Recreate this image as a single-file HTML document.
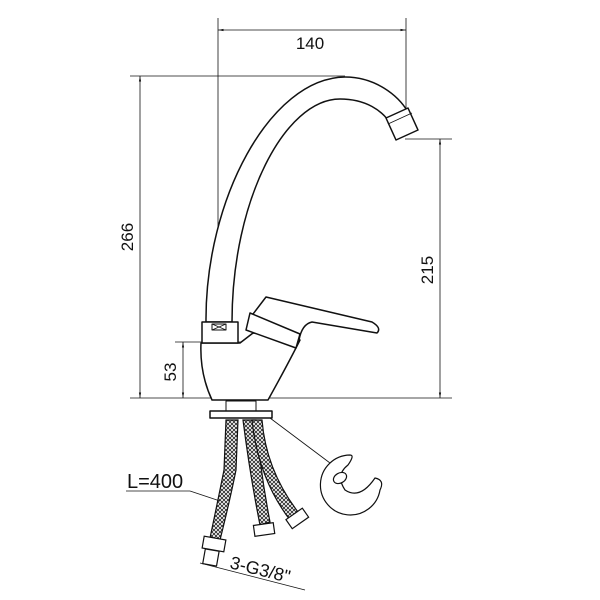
<!DOCTYPE html>
<html><head><style>body{margin:0;background:#fff}svg{display:block}text{font-family:"Liberation Sans",sans-serif;fill:#111}</style></head>
<body>
<svg width="600" height="600" viewBox="0 0 600 600" xmlns="http://www.w3.org/2000/svg">
<defs>
<marker id="a" viewBox="0 0 10 10" refX="10" refY="5" markerWidth="7" markerHeight="7" orient="auto-start-reverse"><path d="M0,3L10,5L0,7z" fill="#111"/></marker>
<pattern id="br" width="4" height="4" patternUnits="userSpaceOnUse"><rect width="4" height="4" fill="#fff"/><path d="M0,0L4,4M4,0L0,4" stroke="#222" stroke-width="0.8"/></pattern>
</defs>
<g stroke="#111" stroke-width="0.8" fill="none">
<line x1="218" y1="18" x2="218" y2="322"/>
<line x1="406" y1="18" x2="406" y2="112"/>
<line x1="218" y1="30" x2="406" y2="30" marker-start="url(#a)" marker-end="url(#a)"/>
<line x1="130" y1="76" x2="345" y2="76"/>
<line x1="140" y1="76" x2="140" y2="398" marker-start="url(#a)" marker-end="url(#a)"/>
<line x1="130" y1="398" x2="452" y2="398"/>
<line x1="405" y1="139" x2="452" y2="139"/>
<line x1="440" y1="139" x2="440" y2="398" marker-start="url(#a)" marker-end="url(#a)"/>
<line x1="175" y1="342" x2="253" y2="342"/>
<line x1="183" y1="342" x2="183" y2="398" marker-start="url(#a)" marker-end="url(#a)"/>
</g>
<text x="310" y="49" font-size="17" text-anchor="middle">140</text>
<text transform="translate(133,237) rotate(-90)" font-size="17" text-anchor="middle">266</text>
<text transform="translate(433,270) rotate(-90)" font-size="17" text-anchor="middle">215</text>
<text transform="translate(176,372) rotate(-90)" font-size="17" text-anchor="middle">53</text>
<g stroke="#111" stroke-width="1.5" fill="#fff" stroke-linejoin="round">
<path d="M206,322 C205,200 270,78 345,77 C375,77 398,95 408,112 L392,126 C383,110 365,99 340,99 C285,99 232,200 232,322 Z"/>
<path d="M386,118 L408,108 L418,130 L396,140 Z"/>
<line x1="388" y1="124" x2="412" y2="113" stroke-width="0.8"/>
<path d="M201,343 C200,365 205,385 212,400 L268,400 C278,382 290,360 300,340 L253,333 L240,343 Z"/>
<rect x="202" y="322" width="36" height="21"/>
<rect x="212" y="324" width="14" height="6" stroke-width="1"/>
<path d="M212,324L226,330M226,324L212,330" stroke-width="0.8"/>
<path d="M266,297 L372,322 Q382,328 377,333 L312,322 Q302,324 299,340 L250,318 Z"/>
<path d="M246,330 L250,313 L300,334 L296,348 Z"/>
<rect x="226" y="401" width="30" height="10" stroke-width="1"/>
<rect x="210" y="411" width="62" height="7"/>
</g>
<g stroke="#111" stroke-width="1.2">
<path d="M226,420 L238,420 L236,470 Q230,500 220,540 L210,538 Q218,500 224,470 Z" fill="url(#br)"/>
<path d="M243,420 L256,420 Q260,470 270,522 L260,525 Q250,475 243,420 Z" fill="url(#br)"/>
<path d="M252,420 L262,420 Q266,470 298,512 L290,520 Q258,478 252,420 Z" fill="url(#br)"/>
<rect x="203" y="538" width="22" height="12" fill="#fff" transform="rotate(10 214 544)"/>
<rect x="204" y="550" width="14" height="15" fill="#fff" transform="rotate(10 211 557)"/>
<rect x="254" y="524" width="20" height="11" fill="#fff" transform="rotate(-8 264 529)"/>
<rect x="287" y="513" width="20" height="11" fill="#fff" transform="rotate(-35 297 518)"/>
<path d="M350,455 A30,30 0 1 0 380,490 Q385,480 375,478 Q360,500 345,490 Q335,475 348,465 Q355,455 350,455 Z" fill="#fff"/>
<ellipse cx="340" cy="478" rx="7" ry="5" fill="#fff" transform="rotate(-30 340 478)"/>
</g>
<g stroke="#111" stroke-width="0.8" fill="none">
<line x1="270" y1="418" x2="330" y2="463"/>
<line x1="126" y1="491" x2="190" y2="491"/>
<line x1="190" y1="491" x2="220" y2="501"/>
<line x1="200" y1="563" x2="305" y2="590"/>
</g>
<text x="127" y="488" font-size="20">L=400</text>
<text transform="translate(229,568) rotate(14)" font-size="18">3-G3/8"</text>
</svg>
</body></html>
